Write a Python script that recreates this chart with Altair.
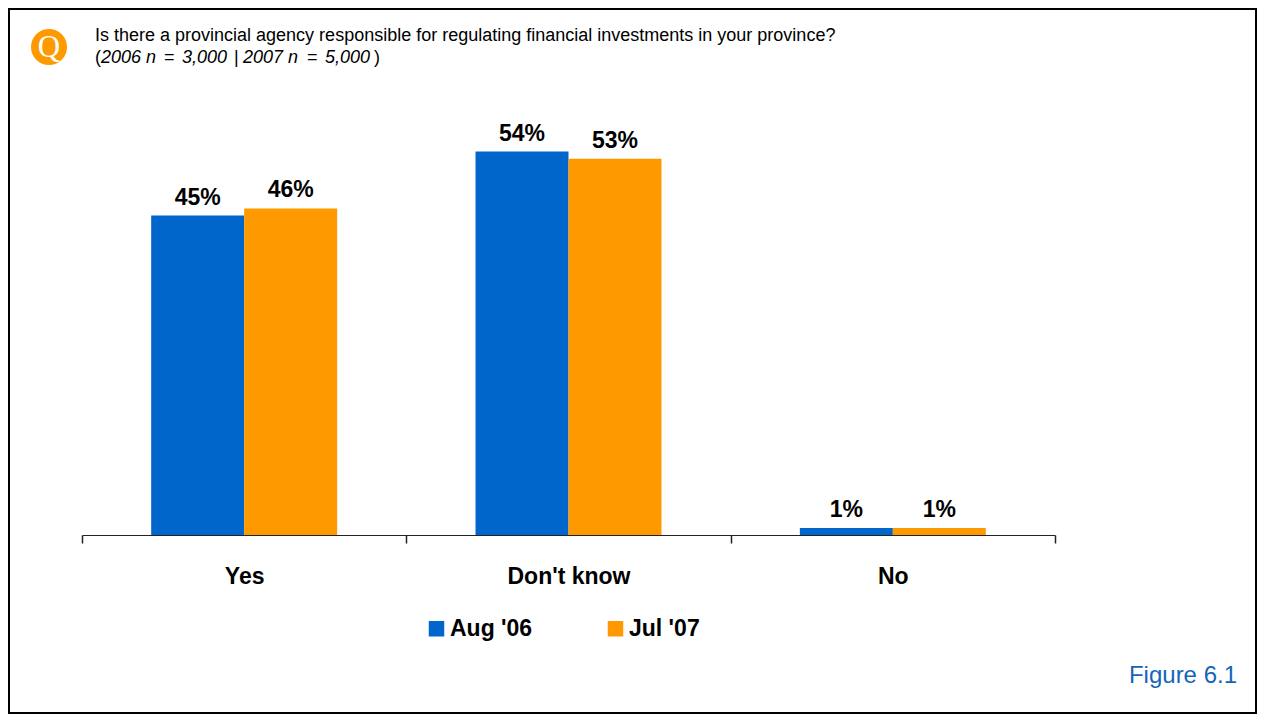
import altair as alt
import pandas as pd

# ---- data ----
categories = ["Yes", "Don't know", "No"]
series = ["Aug '06", "Jul '07"]
aug06 = [45, 54, 1]
jul07 = [46, 53, 1]
colors = ["#0066CC", "#FF9900"]

question = "Is there a provincial agency responsible for regulating financial investments in your province?"
note_parts = ["(", "2006 n", "=", "3,000", "|", "2007 n", "=", "5,000", ")"]
badge = "Q"
figure_label = "Figure 6.1"

rows = []
for cat, a, j in zip(categories, aug06, jul07):
    rows.append({"category": cat, "series": series[0], "value": a, "label": f"{a}%"})
    rows.append({"category": cat, "series": series[1], "value": j, "label": f"{j}%"})
df = pd.DataFrame(rows)

FONT = "Liberation Sans"

x_enc = alt.X(
    "category:N",
    sort=categories,
    scale=alt.Scale(paddingInner=0, paddingOuter=0),
    axis=alt.Axis(
        title=None,
        tickBand="extent",
        labelAngle=0,
        labelFont=FONT,
        labelFontSize=23,
        labelFontWeight="bold",
        labelColor="black",
        labelBaseline="alphabetic",
        labelPadding=40,
        domainColor="#222222",
        domainWidth=1,
        tickColor="#222222",
        tickWidth=1.5,
        tickSize=8,
    ),
)
xoff_enc = alt.XOffset(
    "series:N", sort=series, scale=alt.Scale(paddingInner=0, paddingOuter=0.744)
)
y_enc = alt.Y("value:Q", scale=alt.Scale(domain=[0, 60]), axis=None)

base = alt.Chart(df)

bars = base.mark_bar().encode(
    x=x_enc,
    xOffset=xoff_enc,
    y=y_enc,
    color=alt.Color(
        "series:N",
        sort=series,
        scale=alt.Scale(domain=series, range=colors),
        legend=alt.Legend(
            title=None,
            orient="none",
            legendX=343,
            legendY=508,
            direction="horizontal",
            symbolType="square",
            symbolSize=240,
            symbolStrokeWidth=0,
            symbolOpacity=1,
            labelFont=FONT,
            labelFontSize=23,
            labelFontWeight="bold",
            labelColor="black",
            labelOffset=2,
            columnPadding=71,
        ),
    ),
)

values = base.mark_text(
    font=FONT, fontSize=23, fontWeight="bold", color="black",
    baseline="alphabetic", dy=-11,
).encode(x=x_enc, xOffset=xoff_enc, y=y_enc, text="label:N")

head = pd.DataFrame({"q": [question], "b": [badge], "f": [figure_label]})
for i, p in enumerate(note_parts):
    head[f"p{i}"] = [p]
hbase = alt.Chart(head)

frame = hbase.mark_rect(fill="white", fillOpacity=0, stroke="black", strokeWidth=2).encode(
    x=alt.value(-73), x2=alt.value(1174), y=alt.value(-100), y2=alt.value(604)
)
circle = hbase.mark_circle(color="#FF9900", opacity=1, size=1300).encode(
    x=alt.value(-33), y=alt.value(-62)
)
qtext = hbase.mark_text(
    font="Liberation Serif", fontSize=31, color="white", baseline="middle", align="center", dy=1
).encode(x=alt.value(-33), y=alt.value(-62), text="b:N")
title = hbase.mark_text(
    font=FONT, fontSize=18, color="black", align="left", baseline="alphabetic"
).encode(x=alt.value(13), y=alt.value(-68), text="q:N")


def note(field, xpos, italic):
    kw = dict(font=FONT, fontSize=18, color="black", align="left", baseline="alphabetic")
    if italic:
        kw["fontStyle"] = "italic"
    return hbase.mark_text(**kw).encode(x=alt.value(xpos), y=alt.value(-46), text=f"{field}:N")


note_x = [13, 19, 82, 100, 152, 161, 225, 243, 292]
note_italic = [False, True, False, True, False, True, False, True, False]
notes = [note(f"p{i}", xv, it) for i, (xv, it) in enumerate(zip(note_x, note_italic))]

fig = hbase.mark_text(
    font=FONT, fontSize=24, color="#1565B8", align="right", baseline="alphabetic"
).encode(x=alt.value(1155), y=alt.value(574), text="f:N")

chart = (
    alt.layer(bars, values, frame, circle, qtext, title, *notes, fig)
    .properties(
        width=973,
        height=426,
        padding={"left": 74, "top": 101, "right": 202, "bottom": 179},
        autosize=alt.AutoSizeParams(type="none"),
        background="white",
    )
    .configure_view(stroke=None)
)

chart.save("out.html", embed_options={"renderer": "svg", "actions": False})
